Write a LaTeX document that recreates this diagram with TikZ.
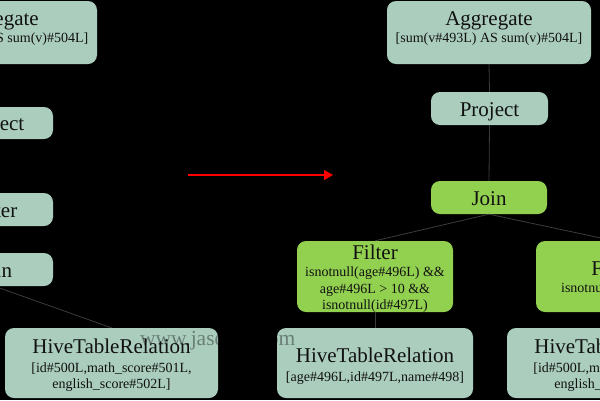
\documentclass[tikz,border=0pt]{standalone}
\usepackage{fontspec}
\setmainfont{Liberation Serif}
\usetikzlibrary{arrows.meta}
\definecolor{boxgray}{RGB}{170,205,190}
\definecolor{boxgreen}{RGB}{146,208,80}
\definecolor{edgecol}{RGB}{60,60,60}
\definecolor{txt}{RGB}{17,17,17}
\tikzset{
  gbox/.style={rectangle, rounded corners=9pt, fill=boxgray, draw=none, inner sep=0pt},
  lbox/.style={rectangle, rounded corners=9pt, fill=boxgreen, draw=none, inner sep=0pt},
  ttl/.style={anchor=base, inner sep=0pt, text=txt, font=\fontsize{21}{25}\selectfont},
  dtl/.style={anchor=base, inner sep=0pt, text=txt, font=\fontsize{14}{17}\selectfont},
  edge/.style={draw=edgecol, line width=0.8pt},
  wmark/.style={anchor=base west, inner sep=0pt, text=black, text opacity=0.38, font=\fontsize{21.5}{25}\selectfont},
}
\begin{document}
\begin{tikzpicture}[x=1pt,y=-1pt]
\fill[black] (0,0) rectangle (600,400);
\useasboundingbox (0,0) rectangle (600,400);
\clip (0,0) rectangle (600,400);

% ---------- left tree (cut off) ----------
\node[gbox, minimum width=204pt, minimum height=63pt] (aggL) at (-5,32.5) {};
\node[gbox, minimum width=117pt, minimum height=32pt] (projL) at (-5.5,123) {};
\node[gbox, minimum width=117pt, minimum height=33pt] (filtL) at (-5.5,209.5) {};
\node[gbox, minimum width=117pt, minimum height=33pt] (joinL) at (-5.5,269.5) {};
\node[gbox, minimum width=213pt, minimum height=70pt] (hiveL) at (111.5,363) {};

% ---------- right tree ----------
\node[gbox, minimum width=204pt, minimum height=63pt] (aggR) at (489,32.5) {};
\node[gbox, minimum width=117pt, minimum height=33pt] (projR) at (489.5,108.5) {};
\node[lbox, minimum width=116pt, minimum height=33pt] (joinR) at (489,197.5) {};
\node[lbox, minimum width=156pt, minimum height=71pt] (filtA) at (375,276.5) {};
\node[lbox, minimum width=156pt, minimum height=71pt] (filtB) at (614,276.5) {};
\node[gbox, minimum width=196pt, minimum height=70pt] (hiveA) at (375,363) {};
\node[gbox, minimum width=213pt, minimum height=70pt] (hiveB) at (613.5,363) {};

% ---------- connectors ----------
\draw[edge] (aggL.south) -- (projL.north);
\draw[edge] (projL.south) -- (filtL.north);
\draw[edge] (filtL.south) -- (joinL.north);
\draw[edge] (joinL.south) -- (hiveL.north);
\draw[edge] (aggR.south) -- (projR.north);
\draw[edge] (projR.south) -- (joinR.north);
\draw[edge] (joinR.south) -- (filtA.north);
\draw[edge] (joinR.south) -- (filtB.north);
\draw[edge] (filtA.south) -- (hiveA.north);
\draw[edge] (filtB.south) -- (hiveB.north);

% ---------- texts: left tree ----------
\node[ttl] (aggLt) at (-5,25) {Aggregate};
\node[dtl] (aggLd) at (-5,42.5) {[sum(v\#493L) AS sum(v)\#504L]};
\node[ttl] (projLt) at (-5.5,130.5) {Project};
\node[ttl] (filtLt) at (-5.5,217) {Filter};
\node[ttl] (joinLt) at (-5.5,277) {Join};
\node[ttl] (hiveLt) at (111.5,353) {HiveTableRelation};
\node[dtl] (hiveLd1) at (111.5,372) {[id\#500L,math\_score\#501L,};
\node[dtl] (hiveLd2) at (111.5,388.5) {english\_score\#502L]};

% ---------- texts: right tree ----------
\node[ttl] (aggRt) at (489,25) {Aggregate};
\node[dtl] (aggRd) at (489,42.5) {[sum(v\#493L) AS sum(v)\#504L]};
\node[ttl] (projRt) at (489.5,116) {Project};
\node[ttl] (joinRt) at (489,205) {Join};
\node[ttl] (filtAt) at (375,259) {Filter};
\node[dtl] (filtAd1) at (375,276) {isnotnull(age\#496L) \&\&};
\node[dtl] (filtAd2) at (375,293) {age\#496L > 10 \&\&};
\node[dtl] (filtAd3) at (375,309.5) {isnotnull(id\#497L)};
\node[ttl] (filtBt) at (614,275) {Filter};
\node[dtl] (filtBd) at (614,292) {isnotnull(id\#500L)};
\node[ttl] (hiveAt) at (375,362) {HiveTableRelation};
\node[dtl] (hiveAd) at (375,381) {[age\#496L,id\#497L,name\#498]};
\node[ttl] (hiveBt) at (613.5,353) {HiveTableRelation};
\node[dtl] (hiveBd1) at (613.5,372) {[id\#500L,math\_score\#501L,};
\node[dtl] (hiveBd2) at (613.5,388.5) {english\_score\#502L]};

% ---------- watermark ----------
\node[wmark] (wm) at (140,345) {www.jasongj.com};

% ---------- red arrow ----------
\coordinate (arrS) at (188,175);
\coordinate (arrE) at (333,175);
\draw[red, line width=1.4pt, -{Triangle[length=9pt,width=10pt]}] (arrS) -- (arrE);
\end{tikzpicture}
\end{document}
